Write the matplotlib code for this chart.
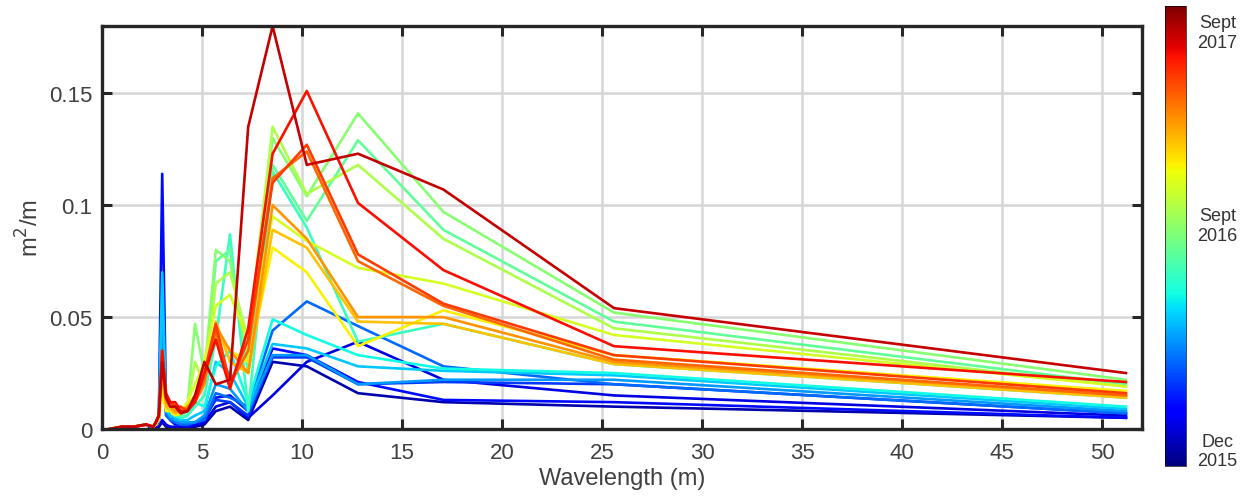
import numpy as np
import matplotlib
matplotlib.use('Agg')
import matplotlib.pyplot as plt
from matplotlib.ticker import MultipleLocator, FixedLocator, FuncFormatter

plt.rcParams['font.family'] = ['Liberation Sans', 'DejaVu Sans']
plt.rcParams['font.size'] = 13

# wavelength bins (m): 51.2/k, plus a short shared low-wavelength tail
wavelength = [51.2, 25.6, 17.07, 12.8, 10.24, 8.53, 7.31, 6.4, 5.69, 5.12,
              4.65, 4.27, 3.94, 3.66, 3.41, 3.2, 3.01, 2.84, 2.69, 2.56,
              2.2, 1.6, 1.0, 0.4]
tail = [0.002, 0.001, 0.001, 0.0]

# spectra, oldest (Dec 2015) to newest (Sept 2017)
s00 = [0.005, 0.010, 0.012, 0.016, 0.028, 0.030, 0.004, 0.010, 0.008, 0.002, 0.001, 0.001, 0.000, 0.000, 0.001, 0.001, 0.003, 0.001, 0.000, 0.000]
s01 = [0.006, 0.015, 0.022, 0.039, 0.030, 0.015, 0.005, 0.012, 0.010, 0.003, 0.002, 0.001, 0.001, 0.001, 0.001, 0.002, 0.004, 0.001, 0.001, 0.000]
s02 = [0.005, 0.012, 0.013, 0.021, 0.033, 0.036, 0.008, 0.015, 0.014, 0.004, 0.002, 0.001, 0.002, 0.002, 0.004, 0.010, 0.114, 0.004, 0.002, 0.001]
s03 = [0.007, 0.020, 0.021, 0.020, 0.032, 0.032, 0.006, 0.012, 0.013, 0.005, 0.003, 0.002, 0.002, 0.003, 0.005, 0.008, 0.040, 0.004, 0.002, 0.001]
s04 = [0.007, 0.020, 0.028, 0.046, 0.057, 0.044, 0.010, 0.014, 0.016, 0.004, 0.003, 0.002, 0.002, 0.003, 0.004, 0.006, 0.030, 0.003, 0.002, 0.001]
s05 = [0.008, 0.022, 0.022, 0.020, 0.033, 0.033, 0.008, 0.018, 0.020, 0.006, 0.003, 0.003, 0.003, 0.004, 0.005, 0.008, 0.050, 0.005, 0.002, 0.001]
s06 = [0.009, 0.024, 0.026, 0.028, 0.036, 0.038, 0.010, 0.025, 0.030, 0.008, 0.006, 0.004, 0.004, 0.005, 0.006, 0.010, 0.070, 0.006, 0.003, 0.001]
s07 = [0.010, 0.025, 0.027, 0.033, 0.042, 0.049, 0.012, 0.035, 0.028, 0.010, 0.012, 0.006, 0.005, 0.006, 0.008, 0.010, 0.030, 0.006, 0.003, 0.001]
s08 = [0.014, 0.029, 0.047, 0.039, 0.090, 0.115, 0.008, 0.087, 0.040, 0.015, 0.010, 0.006, 0.005, 0.008, 0.008, 0.010, 0.020, 0.005, 0.002, 0.001]
s09 = [0.020, 0.048, 0.089, 0.129, 0.093, 0.118, 0.025, 0.080, 0.075, 0.020, 0.015, 0.008, 0.006, 0.008, 0.010, 0.010, 0.025, 0.006, 0.003, 0.001]
s10 = [0.022, 0.052, 0.097, 0.141, 0.104, 0.130, 0.030, 0.075, 0.080, 0.025, 0.047, 0.010, 0.008, 0.010, 0.012, 0.010, 0.030, 0.006, 0.003, 0.001]
s11 = [0.019, 0.045, 0.085, 0.118, 0.105, 0.135, 0.040, 0.070, 0.065, 0.020, 0.030, 0.010, 0.008, 0.008, 0.010, 0.012, 0.020, 0.006, 0.002, 0.001]
s12 = [0.019, 0.042, 0.065, 0.072, 0.084, 0.095, 0.040, 0.060, 0.055, 0.030, 0.020, 0.012, 0.008, 0.008, 0.010, 0.010, 0.015, 0.005, 0.003, 0.001]
s13 = [0.017, 0.033, 0.053, 0.037, 0.070, 0.081, 0.030, 0.035, 0.045, 0.025, 0.015, 0.010, 0.007, 0.006, 0.008, 0.008, 0.020, 0.004, 0.002, 0.001]
s14 = [0.014, 0.029, 0.047, 0.048, 0.081, 0.089, 0.025, 0.030, 0.048, 0.022, 0.015, 0.010, 0.008, 0.007, 0.009, 0.010, 0.025, 0.005, 0.002, 0.001]
s15 = [0.015, 0.030, 0.050, 0.050, 0.085, 0.100, 0.025, 0.035, 0.046, 0.020, 0.012, 0.010, 0.008, 0.008, 0.010, 0.012, 0.025, 0.005, 0.003, 0.001]
s16 = [0.015, 0.031, 0.055, 0.075, 0.124, 0.112, 0.035, 0.020, 0.044, 0.022, 0.012, 0.009, 0.007, 0.010, 0.012, 0.014, 0.030, 0.006, 0.003, 0.001]
s17 = [0.016, 0.033, 0.056, 0.078, 0.127, 0.110, 0.040, 0.020, 0.047, 0.025, 0.014, 0.008, 0.010, 0.010, 0.012, 0.015, 0.035, 0.006, 0.003, 0.001]
s18 = [0.021, 0.037, 0.071, 0.101, 0.151, 0.123, 0.045, 0.018, 0.040, 0.025, 0.012, 0.008, 0.008, 0.012, 0.012, 0.016, 0.035, 0.006, 0.003, 0.001]
s19 = [0.025, 0.054, 0.107, 0.123, 0.118, 0.180, 0.135, 0.022, 0.020, 0.030, 0.015, 0.008, 0.007, 0.010, 0.010, 0.014, 0.030, 0.006, 0.003, 0.001]
spectra = [s00, s01, s02, s03, s04, s05, s06, s07, s08, s09,
           s10, s11, s12, s13, s14, s15, s16, s17, s18, s19]

cbar_ticks = [0.04, 0.53, 0.95]
cbar_labels = ['Dec\n2015', 'Sept\n2016', 'Sept\n2017']

fig = plt.figure(figsize=(12.47, 5.02), dpi=100)
ax = fig.add_axes([0.0818, 0.1434, 0.834, 0.8026])
cmap = plt.get_cmap('jet')
n = len(spectra)
for i, s in enumerate(spectra):
    c = cmap(0.04 + 0.90 * i / (n - 1))
    ax.plot(wavelength, list(s) + tail, color=c, lw=1.9, zorder=2)

ax.set_xlim(0, 52)
ax.set_ylim(0, 0.18)
ax.xaxis.set_major_locator(MultipleLocator(5))
ax.yaxis.set_major_locator(FixedLocator([0, 0.05, 0.1, 0.15]))
ax.yaxis.set_major_formatter(FuncFormatter(lambda v, p: '0' if v == 0 else ('%g' % v)))
ax.grid(True, color='#d6d6d6', lw=1.8, zorder=0)
ax.tick_params(direction='in', length=7, width=2.2, top=True, right=True,
               colors='#262626', labelcolor='#404040', labelsize=16)
ax.tick_params(axis='x', pad=9)
ax.tick_params(axis='y', pad=7)
for sp in ax.spines.values():
    sp.set_linewidth(2.4)
    sp.set_color('#262626')
ax.set_xlabel('Wavelength (m)', fontsize=17, color='#404040', labelpad=3)
ax.set_ylabel('m$^2$/m', fontsize=17, color='#404040', labelpad=4)

cax = fig.add_axes([0.934, 0.0697, 0.017, 0.916])
sm = matplotlib.cm.ScalarMappable(cmap=cmap, norm=matplotlib.colors.Normalize(0, 1))
cb = fig.colorbar(sm, cax=cax)
cb.set_ticks(cbar_ticks)
cb.set_ticklabels(cbar_labels)
cb.ax.tick_params(length=0, labelsize=13, labelcolor='#333333', pad=6)
cb.outline.set_linewidth(0.5)
for t in cb.ax.get_yticklabels():
    t.set_horizontalalignment('center')
    t.set_x(2.1)

fig.savefig('out.png', dpi=100)
